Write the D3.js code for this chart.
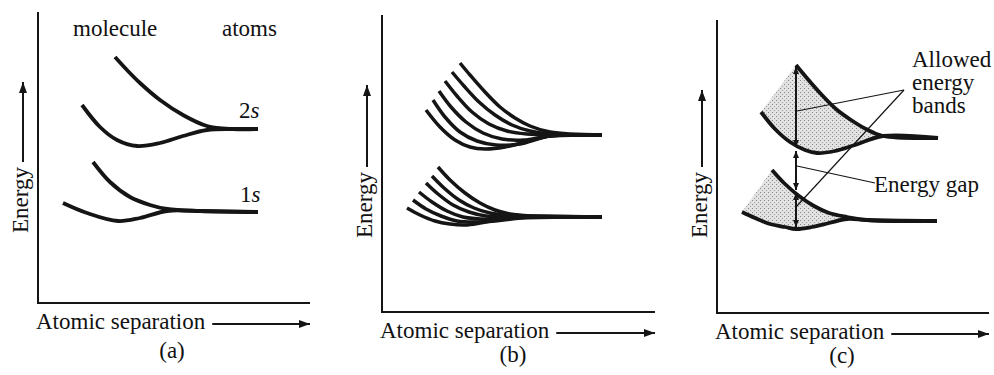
<!DOCTYPE html>
<html><head><meta charset="utf-8">
<script src="https://cdn.jsdelivr.net/npm/d3@7"></script>
<style>
html,body{margin:0;padding:0;background:#fff}
svg{display:block}
</style>
</head><body>
<svg id="chart" width="994" height="375" font-family="'Liberation Serif', 'Times New Roman', Times, serif"></svg>
<script>
// ---------- data (arbitrary units: atomic separation, energy) ----------
const panelLabels = ["(a)", "(b)", "(c)"];
const xTitle = "Atomic separation";
const yTitle = "Energy";

// panel (a): two-atom molecule levels
const a2sUpper = [[77,246],[89,233],[102,220],[122,203],[145,188],[169,177],[195,174],[220,174]];
const a2sLower = [[44,198],[62,176],[79,163],[99,157],[122,160],[145,167],[169,173],[195,174],[220,174]];
const a1sUpper = [[55,141],[72,121],[92,106],[112,98],[129,94],[162,92],[220,91]];
const a1sLower = [[25,100],[49,90],[80,82],[102,85],[129,92],[162,92],[220,91]];
const aLevelLabels = [{main:"2", ital:"s", pos:[201,185]}, {main:"1", ital:"s", pos:[202,101]}];
const aTopLabels = [{t:"molecule", pos:[35,267]}, {t:"atoms", pos:[184,267]}];

// panel (b): six-atom levels
const bUpper = [
  [[78,249],[88,237],[103,220],[118,205],[133,194],[148,186],[168,180],[220,177]],
  [[70,240],[82,226],[97,210],[113,197],[130,187],[148,181],[168,178],[220,177]],
  [[63,231],[75,216],[90,200],[107,188],[125,181],[145,178],[168,177],[220,177]],
  [[57,221],[69,205],[84,190],[101,179],[120,173],[142,172],[168,176],[220,177]],
  [[51,212],[63,195],[78,180],[95,171],[114,167],[138,168],[168,176],[220,177]],
  [[44,202],[58,185],[73,172],[88,165],[103,163],[123,165],[143,170],[168,176],[220,177]]
];
const bLower = [
  [[56,145],[68,132],[83,119],[98,109],[113,102],[128,98],[148,96],[220,95]],
  [[50,136],[62,124],[77,112],[92,104],[108,99],[125,97],[148,96],[220,95]],
  [[44,129],[56,118],[71,107],[87,100],[104,96],[122,95],[148,95],[220,95]],
  [[37,120],[50,110],[65,101],[81,95],[99,93],[118,93],[148,95],[220,95]],
  [[31,112],[44,103],[59,96],[75,91],[93,90],[113,91],[140,94],[220,95]],
  [[25,104],[38,97],[53,91],[68,88],[83,87],[98,89],[113,92],[128,95],[220,95]]
];

// panel (c): band envelopes
const cUpTop = [[79,248],[89,236],[104,219],[119,204],[134,193],[149,184],[166,177],[221,175]];
const cUpBot = [[44,201],[58,184],[73,171],[88,163],[100,160],[118,162],[138,168],[166,177],[221,175]];
const cLowTop = [[55,143],[67,130],[82,117],[97,107],[112,100],[130,96],[150,93],[220,92]];
const cLowBot = [[25,101],[38,95],[53,89],[68,86],[79,84],[95,86],[112,90],[130,94],[150,93],[220,92]];
const cBandMerge = [166, 150];
const cArrowX = 79;
const cArrows = [[166,246],[123,162],[86,120]];
const cLeaders = [[[187,223],[80,202]], [[187,223],[79,106]], [[158,130],[80,147]]];
const cLabels = [{t:"Allowed", pos:[195,246]}, {t:"energy", pos:[195,223]}, {t:"bands", pos:[195,200]}, {t:"Energy gap", pos:[157,121]}];

// ---------- layout ----------
const panels = [
  {ox:38,  oy:303, xMax:272, yMax:291, lab:172, labY:358, eBase:233},
  {ox:382, oy:312, xMax:273, yMax:297, lab:513, labY:362, eBase:238},
  {ox:717, oy:313, xMax:272, yMax:293, lab:842, labY:363, eBase:238}
];
const FS = 23;
const FONT = "'Liberation Serif', 'Times New Roman', Times, serif";
const ink = "#151515";

const svg = d3.select("#chart");
const defs = svg.append("defs");
function marker(id, w, h) {
  defs.append("marker").attr("id", id).attr("markerUnits", "userSpaceOnUse")
    .attr("viewBox", `0 0 ${w} ${h}`).attr("markerWidth", w).attr("markerHeight", h)
    .attr("refX", w).attr("refY", h/2).attr("orient", "auto-start-reverse")
    .append("path").attr("d", `M0,0L${w},${h/2}L0,${h}Z`).attr("fill", ink);
}
marker("ah", 11, 8);
marker("ahs", 7, 6);
const pat = defs.append("pattern").attr("id","stip").attr("width",4).attr("height",4).attr("patternUnits","userSpaceOnUse");
pat.append("rect").attr("width",4).attr("height",4).attr("fill","#e2e2e2");
pat.append("rect").attr("x",0).attr("y",0).attr("width",1).attr("height",1).attr("fill","#858585");
pat.append("rect").attr("x",2).attr("y",2).attr("width",1).attr("height",1).attr("fill","#a0a0a0");

function txt(sel) {
  return sel.append("text").attr("font-family", FONT).attr("font-size", FS).attr("fill", "#111");
}

panels.forEach((p, i) => {
  p.x = d3.scaleLinear().domain([0, p.xMax]).range([p.ox, p.ox + p.xMax]);
  p.y = d3.scaleLinear().domain([0, p.yMax]).range([p.oy, p.oy - p.yMax]);
  p.line = d3.line().x(d => p.x(d[0])).y(d => p.y(d[1])).curve(d3.curveCatmullRom.alpha(0.5));
  const g = svg.append("g");
  p.g = g;
  // axes
  g.append("path").attr("d", `M${p.x(0)},${p.y(p.yMax)}V${p.y(0)}H${p.x(p.xMax)}`)
    .attr("fill","none").attr("stroke", ink).attr("stroke-width", 2);
  // x title + arrow
  const xt = txt(g).attr("x", p.x(0) - 2).attr("y", p.y(0) + 26).text(xTitle);
  const xEnd = p.x(0) - 2 + xt.node().getComputedTextLength();
  g.append("line").attr("x1", xEnd + 7).attr("x2", p.x(p.xMax)).attr("y1", p.y(0) + 21).attr("y2", p.y(0) + 21)
    .attr("stroke", ink).attr("stroke-width", 2).attr("marker-end", "url(#ah)");
  // y title + arrow
  const bx = p.x(0) - 10;
  const yt = txt(g).attr("transform", `translate(${bx},${p.eBase}) rotate(-90)`).text(yTitle);
  const yEnd = p.eBase - yt.node().getComputedTextLength();
  g.append("line").attr("x1", bx - 5).attr("x2", bx - 5).attr("y1", yEnd - 5).attr("y2", p.y(p.yMax) + 70)
    .attr("stroke", ink).attr("stroke-width", 2).attr("marker-end", "url(#ah)");
  // panel label
  txt(g).attr("x", p.lab).attr("y", p.labY).attr("text-anchor","middle").text(panelLabels[i]);
});

function curve(p, pts, w) {
  p.g.append("path").attr("d", p.line(pts)).attr("fill","none").attr("stroke", ink)
    .attr("stroke-width", w || 3.8).attr("stroke-linecap","butt");
}

// panel (a)
const pa = panels[0];
[a2sUpper, a2sLower, a1sUpper, a1sLower].forEach(c => curve(pa, c));
aTopLabels.forEach(l => txt(pa.g).attr("x", pa.x(l.pos[0])).attr("y", pa.y(l.pos[1])).text(l.t));
aLevelLabels.forEach(l => {
  const t = txt(pa.g).attr("x", pa.x(l.pos[0])).attr("y", pa.y(l.pos[1]));
  t.append("tspan").text(l.main);
  t.append("tspan").attr("font-style","italic").text(l.ital);
});

// panel (b)
const pb = panels[1];
bUpper.forEach(c => curve(pb, c, 3.5));
bLower.forEach(c => curve(pb, c, 3.5));

// panel (c)
const pc = panels[2];
function band(top, bot, mx) {
  const t = top.filter(d => d[0] <= mx);
  const b = bot.filter(d => d[0] < mx).reverse();
  pc.g.append("path").attr("d", pc.line(t.concat(b)) + "Z").attr("fill", "url(#stip)").attr("stroke","none");
}
band(cUpTop, cUpBot, cBandMerge[0]);
band(cLowTop, cLowBot, cBandMerge[1]);
cLeaders.forEach(l => pc.g.append("line")
  .attr("x1", pc.x(l[0][0])).attr("y1", pc.y(l[0][1])).attr("x2", pc.x(l[1][0])).attr("y2", pc.y(l[1][1]))
  .attr("stroke", ink).attr("stroke-width", 1.2));
[cUpTop, cUpBot, cLowTop, cLowBot].forEach(c => curve(pc, c));
cArrows.forEach(a => pc.g.append("line")
  .attr("x1", pc.x(cArrowX)).attr("x2", pc.x(cArrowX)).attr("y1", pc.y(a[0])).attr("y2", pc.y(a[1]))
  .attr("stroke", ink).attr("stroke-width", 2)
  .attr("marker-start","url(#ahs)").attr("marker-end","url(#ahs)"));
cLabels.forEach(l => txt(pc.g).attr("x", pc.x(l.pos[0])).attr("y", pc.y(l.pos[1])).text(l.t));
</script>
</body></html>
